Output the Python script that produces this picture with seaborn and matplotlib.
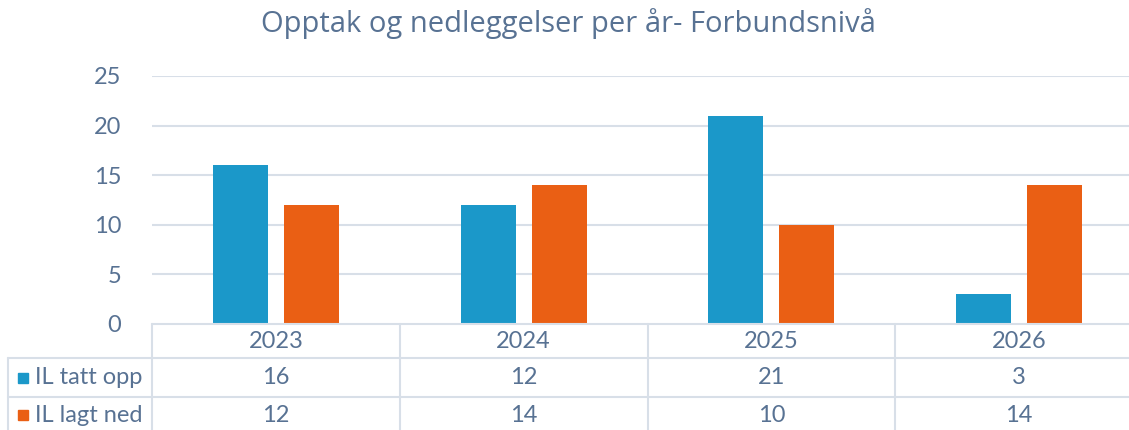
import matplotlib
matplotlib.use("Agg")
import matplotlib.pyplot as plt
import matplotlib.transforms as mtransforms
import seaborn as sns
import pandas as pd

years = ["2023", "2024", "2025", "2026"]
series_names = ["IL tatt opp", "IL lagt ned"]
tatt_opp = [16, 12, 21, 3]
lagt_ned = [12, 14, 10, 14]
y_ticks = [0, 5, 10, 15, 20, 25]
title = "Opptak og nedleggelser per år- Forbundsnivå"

colors = ["#1b98c9", "#ea5f14"]
text_color = "#587293"
grid_color = "#d8dfe8"

sns.set_theme(style="white")
plt.rcParams["font.family"] = ["Lato", "DejaVu Sans"]

df = pd.DataFrame({
    "year": years * 2,
    "value": tatt_opp + lagt_ned,
    "series": [series_names[0]] * 4 + [series_names[1]] * 4,
})

W, H = 1129, 430
fig = plt.figure(figsize=(W / 100, H / 100), dpi=100)
ax_left, ax_right = 152, 1143
ax_top, ax_bottom = 76, 324
ax = fig.add_axes([ax_left / W, 1 - ax_bottom / H, (ax_right - ax_left) / W, (ax_bottom - ax_top) / H])

sns.barplot(data=df, x="year", y="value", hue="series", palette=colors,
            width=0.573, gap=0.225, ax=ax, legend=False, saturation=1,
            linewidth=0, zorder=3)

ax.set_xlim(-0.5, 3.5)
ax.set_ylim(0, 25)
ax.set_yticks(y_ticks)
ax.set_yticklabels([str(t) for t in y_ticks], fontsize=17, color=text_color)
ax.tick_params(axis="y", length=0, pad=22)
ax.set_xticks([])
ax.set_xlabel("")
ax.set_ylabel("")
for s in ax.spines.values():
    s.set_visible(False)
for t in y_ticks[1:]:
    ax.axhline(t, color=grid_color, lw=1.5, zorder=1)

fig.suptitle(title, x=(262 + 875) / 2 / W, y=1 - 24 / H, fontsize=21, color=text_color,
             va="center", family=["Open Sans", "DejaVu Sans"])

# data table
trans = mtransforms.blended_transform_factory(ax.transData, ax.transAxes)
ah = ax_bottom - ax_top
def ya(py):
    return (ax_bottom - py) / ah

cat_w = (ax_right - ax_left) / 4
x_far_left = -0.5 - (ax_left - 8) / cat_w
lw = 1.5
ax.plot([-0.5, 3.5], [0, 0], transform=trans, color=grid_color, lw=lw, clip_on=False, zorder=4)
for py in [358, 397]:
    ax.plot([x_far_left, 3.5], [ya(py), ya(py)], transform=trans, color=grid_color, lw=lw, clip_on=False)
for xb in [-0.5, 0.5, 1.5, 2.5, 3.5]:
    ax.plot([xb, xb], [0, ya(432)], transform=trans, color=grid_color, lw=lw, clip_on=False)
ax.plot([x_far_left, x_far_left], [ya(358), ya(432)], transform=trans, color=grid_color, lw=lw, clip_on=False)

for i, yr in enumerate(years):
    ax.text(i, ya(341), yr, transform=trans, ha="center", va="center", fontsize=17, color=text_color)
    ax.text(i, ya(378), str(tatt_opp[i]), transform=trans, ha="center", va="center", fontsize=17, color=text_color)
    ax.text(i, ya(415), str(lagt_ned[i]), transform=trans, ha="center", va="center", fontsize=17, color=text_color)

for j, (name, py) in enumerate(zip(series_names, [378, 415])):
    fig.patches.append(plt.Rectangle((18 / W, 1 - (py + 5) / H), 10 / W, 10 / H,
                                     transform=fig.transFigure, color=colors[j], figure=fig))
    fig.text(35 / W, 1 - py / H, name, ha="left", va="center", fontsize=17, color=text_color)

fig.savefig("out.png", dpi=100)
